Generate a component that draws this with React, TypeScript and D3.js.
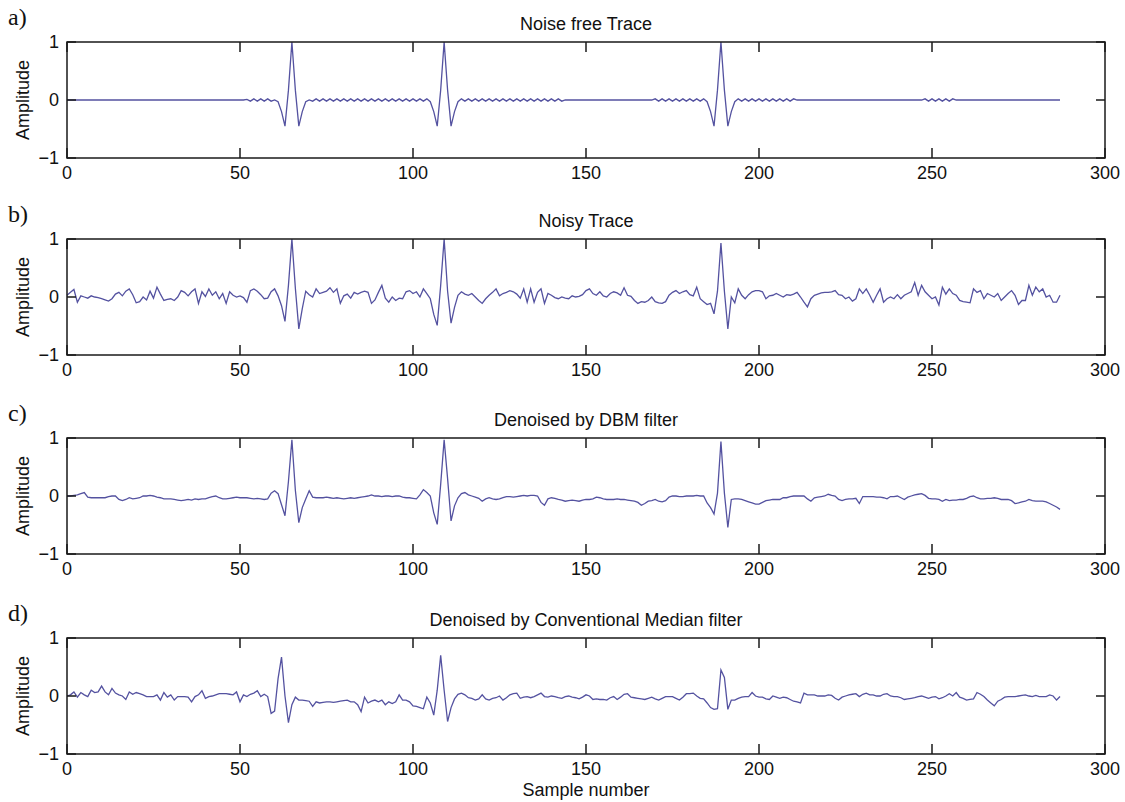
import React from "react";
import * as d3 from "d3";

// sample values (index = sample number)
const noiseFree = [
  0, 0, 0, 0, 0, 0, 0, 0, 0, 0, 0, 0, 0, 0, 0, 0,
  0, 0, 0, 0, 0, 0, 0, 0, 0, 0, 0, 0, 0, 0, 0, 0,
  0, 0, 0, 0, 0, 0, 0, 0, 0, 0, 0, 0, 0, 0, 0, 0,
  0, 0, 0, 0, 0.01, -0.02, 0.02, -0.02, 0.02, -0.02, 0.02, -0.02, 0, -0.03, -0.2, -0.45,
  0.17, 1, 0.17, -0.45, -0.2, -0.03, 0, -0.02, 0.02, -0.02, 0.02, -0.02, 0.02, -0.02, 0.02, -0.02,
  0.02, -0.02, 0.02, -0.02, 0.02, -0.02, 0.02, -0.02, 0.02, -0.02, 0.02, -0.02, 0.02, -0.02, 0.02, -0.02,
  0.02, -0.02, 0.02, -0.02, 0.02, -0.02, 0.02, -0.02, 0.02, -0.03, -0.2, -0.45, 0.17, 1, 0.17, -0.45,
  -0.2, -0.03, 0.02, -0.02, 0.02, -0.02, 0.02, -0.02, 0.02, -0.02, 0.02, -0.02, 0.02, -0.02, 0.02, -0.02,
  0.02, -0.02, 0.02, -0.02, 0.02, -0.02, 0.02, -0.02, 0.02, -0.02, 0.02, -0.02, 0.02, -0.02, 0.02, -0.02,
  0, 0, 0, 0, 0, 0, 0, 0, 0, 0, 0, 0, 0, 0, 0, 0,
  0, 0, 0, 0, 0, 0, 0, 0, 0, 0, 0.02, -0.02, 0.02, -0.02, 0.02, -0.02,
  0.02, -0.02, 0.02, -0.02, 0.02, -0.02, 0.02, -0.02, 0.02, -0.03, -0.2, -0.45, 0.17, 1, 0.17, -0.45,
  -0.2, -0.03, 0.02, -0.02, 0.02, -0.02, 0.02, -0.02, 0.02, -0.02, 0.02, -0.02, 0.02, -0.02, 0.02, -0.02,
  0.02, -0.02, 0.02, 0, 0, 0, 0, 0, 0, 0, 0, 0, 0, 0, 0, 0,
  0, 0, 0, 0, 0, 0, 0, 0, 0, 0, 0, 0, 0, 0, 0, 0,
  0, 0, 0, 0, 0, 0, 0, 0, 0.02, -0.02, 0.02, -0.02, 0.02, -0.02, 0.02, -0.02,
  0.02, 0, 0, 0, 0, 0, 0, 0, 0, 0, 0, 0, 0, 0, 0, 0,
  0, 0, 0, 0, 0, 0, 0, 0, 0, 0, 0, 0, 0, 0, 0, 0,
];

const noisy = [
  0.03, 0.08, 0.13, -0.09, 0.02, 0.0, -0.02, 0.02, 0.0, -0.01, -0.03, -0.05, -0.07, -0.03, 0.05, 0.08,
  0.02, 0.1, 0.14, 0.04, -0.1, -0.08, 0.0, -0.05, 0.1, -0.02, 0.17, 0.05, -0.06, -0.04, -0.03, -0.06,
  0.0, 0.11, 0.08, 0.02, 0.09, 0.14, -0.11, 0.09, 0.01, 0.14, 0.03, 0.09, -0.03, 0.06, -0.11, 0.09,
  0.03, 0.0, 0.02, -0.01, -0.09, 0.11, 0.14, 0.1, 0.04, -0.03, -0.02, 0.09, 0.14, 0.02, -0.15, -0.42,
  0.2, 1.0, 0.15, -0.55, -0.2, 0.1, 0.04, 0.0, 0.14, 0.06, 0.08, 0.1, 0.16, 0.08, 0.14, -0.11,
  0.02, 0.05, -0.02, 0.08, 0.05, 0.08, 0.1, 0.08, -0.11, -0.05, 0.08, 0.2, -0.02, -0.09, 0.0, -0.06,
  -0.02, -0.03, 0.09, 0.11, 0.06, 0.09, 0.0, 0.14, 0.06, -0.03, -0.3, -0.49, 0.2, 1.0, 0.1, -0.45,
  -0.18, 0.03, 0.09, 0.05, 0.03, 0.06, 0.0, -0.06, -0.11, -0.03, 0.03, 0.08, 0.14, 0.02, 0.06, 0.08,
  0.11, 0.09, 0.05, -0.02, 0.14, -0.09, 0.14, -0.09, 0.08, 0.14, -0.11, 0.06, 0.03, -0.01, -0.03, 0.0,
  -0.02, -0.03, 0.02, 0.0, 0.01, 0.04, 0.11, 0.14, 0.06, 0.03, 0.09, 0.02, 0.0, 0.06, 0.09, 0.07,
  0.03, 0.16, 0.03, 0.01, -0.06, -0.11, -0.08, -0.09, -0.06, 0.0, -0.08, -0.1, -0.11, -0.08, 0.03, 0.08,
  0.11, 0.06, 0.09, 0.11, 0.04, 0.02, 0.17, -0.03, -0.08, -0.13, -0.11, -0.29, 0.1, 0.93, 0.1, -0.55,
  0.0, -0.1, 0.14, 0.03, -0.03, 0.04, 0.09, 0.11, 0.11, 0.09, -0.03, 0.02, 0.03, 0.06, 0.03, 0.0,
  0.04, 0.03, 0.05, 0.08, 0.0, -0.09, -0.17, -0.03, 0.03, 0.05, 0.07, 0.08, 0.08, 0.09, 0.11, 0.04,
  0.03, -0.03, 0.0, -0.07, -0.03, 0.14, 0.06, 0.14, 0.03, -0.09, 0.03, 0.14, -0.09, -0.03, 0.0, -0.03,
  0.04, -0.03, 0.03, 0.06, 0.09, 0.25, 0.03, 0.2, 0.09, 0.03, -0.03, 0.0, -0.14, 0.17, 0.05, 0.14,
  0.06, 0.03, -0.06, -0.08, -0.09, -0.1, 0.14, 0.08, 0.11, -0.03, 0.06, 0.03, 0.0, 0.06, -0.06, 0.0,
  0.06, 0.11, 0.03, -0.13, -0.06, -0.06, 0.2, 0.03, 0.17, 0.09, 0.14, 0.0, 0.03, -0.09, -0.09, 0.03,
];

const dbmFiltered = [
  0.0, 0.0, 0.01, 0.02, 0.04, 0.06, -0.02, -0.03, -0.03, -0.03, -0.03, -0.03, -0.01, 0.0, 0.0, -0.06,
  -0.08, -0.06, -0.03, -0.05, -0.04, -0.03, 0.0, 0.0, 0.01, 0.0, -0.02, -0.03, -0.05, -0.05, -0.05, -0.06,
  -0.07, -0.08, -0.07, -0.06, -0.07, -0.05, -0.06, -0.05, -0.05, -0.03, -0.01, 0.0, -0.03, -0.05, -0.05, -0.04,
  -0.03, -0.02, -0.03, -0.03, -0.03, -0.04, -0.05, -0.04, -0.05, -0.06, -0.05, 0.05, 0.09, 0.04, -0.15, -0.34,
  0.25, 0.97, 0.1, -0.46, -0.2, -0.05, 0.09, -0.02, -0.03, -0.03, -0.03, -0.02, -0.03, -0.04, -0.03, -0.04,
  -0.05, -0.04, -0.03, -0.04, -0.03, -0.02, -0.01, 0.0, 0.02, 0.0, 0.0, -0.01, 0.0, 0.0, -0.01, 0.0,
  0.0, -0.02, -0.03, -0.03, -0.04, -0.05, 0.02, 0.11, 0.06, 0.0, -0.29, -0.49, 0.2, 0.97, 0.3, -0.43,
  -0.17, -0.03, 0.04, 0.06, 0.02, 0.0, -0.02, -0.04, -0.09, -0.05, -0.03, -0.05, -0.06, -0.05, -0.03, -0.01,
  -0.01, -0.02, -0.01, 0.0, 0.01, 0.0, 0.01, 0.01, 0.0, -0.11, -0.16, -0.05, -0.03, -0.04, -0.06, -0.07,
  -0.09, -0.08, -0.07, -0.08, -0.09, -0.07, -0.06, -0.06, -0.05, -0.02, -0.03, -0.05, -0.06, -0.06, -0.06, -0.05,
  -0.06, -0.06, -0.07, -0.08, -0.09, -0.11, -0.16, -0.13, -0.09, -0.08, -0.06, -0.09, -0.1, -0.08, -0.02, 0.0,
  0.0, -0.01, -0.01, 0.0, 0.0, 0.0, 0.01, 0.0, 0.0, -0.12, -0.2, -0.31, 0.05, 0.94, 0.05, -0.54,
  -0.06, -0.05, -0.05, -0.06, -0.08, -0.1, -0.12, -0.14, -0.14, -0.11, -0.08, -0.07, -0.06, -0.06, -0.06, -0.03,
  -0.03, -0.01, 0.0, 0.0, 0.0, 0.0, -0.05, -0.09, -0.03, -0.02, -0.01, 0.0, 0.03, 0.01, 0.0, -0.06,
  -0.08, -0.06, -0.05, -0.05, -0.04, -0.13, -0.01, -0.01, -0.01, -0.01, -0.02, -0.02, -0.03, -0.05, -0.01, -0.01,
  0.0, -0.03, -0.06, -0.02, 0.0, 0.02, 0.03, 0.04, 0.01, -0.04, -0.05, -0.05, -0.06, -0.09, -0.06, -0.08,
  -0.07, -0.07, -0.06, -0.06, -0.04, -0.01, 0.0, -0.03, -0.05, -0.05, -0.04, -0.04, -0.03, -0.04, -0.06, -0.06,
  -0.06, -0.08, -0.13, -0.12, -0.1, -0.09, -0.06, -0.08, -0.09, -0.09, -0.09, -0.1, -0.13, -0.16, -0.19, -0.23,
];

const medianFiltered = [
  0.0, 0.02, 0.07, -0.02, 0.06, 0.02, -0.01, 0.1, 0.06, 0.07, 0.17, 0.07, 0.02, 0.13, 0.05, 0.02,
  0.0, -0.06, 0.07, 0.03, 0.06, 0.04, 0.02, -0.01, -0.01, -0.01, 0.02, -0.07, 0.06, -0.02, 0.02, -0.07,
  -0.01, -0.01, -0.01, -0.02, -0.1, -0.01, 0.02, 0.09, -0.04, -0.01, 0.0, 0.02, 0.04, 0.04, 0.04, 0.03,
  0.02, 0.07, -0.1, 0.02, -0.01, 0.03, 0.05, 0.09, -0.01, 0.03, -0.01, -0.3, -0.26, 0.3, 0.67, 0.0,
  -0.46, -0.15, -0.02, -0.07, -0.07, -0.08, -0.09, -0.18, -0.1, -0.12, -0.11, -0.1, -0.1, -0.11, -0.1, -0.09,
  -0.08, -0.07, -0.1, -0.1, -0.15, -0.27, -0.02, -0.12, -0.09, -0.07, -0.1, -0.07, -0.15, -0.1, -0.13, -0.1,
  0.02, -0.07, -0.07, -0.1, -0.17, -0.18, -0.2, -0.22, -0.02, -0.12, -0.33, 0.1, 0.7, 0.1, -0.44, -0.2,
  -0.05, 0.03, 0.05, 0.02, -0.03, -0.04, -0.07, -0.05, 0.02, -0.05, -0.07, -0.04, -0.03, 0.0, -0.07, -0.03,
  0.02, 0.04, 0.05, -0.04, -0.02, -0.01, -0.03, -0.01, 0.02, 0.05, -0.01, -0.02, 0.0, -0.01, -0.03, -0.04,
  -0.01, 0.0, -0.02, -0.03, -0.05, -0.02, 0.02, 0.0, -0.06, -0.05, -0.06, -0.06, -0.07, -0.03, -0.01, -0.06,
  -0.02, 0.03, 0.04, -0.02, -0.03, -0.04, -0.05, -0.06, -0.04, -0.02, -0.05, -0.07, -0.04, -0.01, -0.01, -0.01,
  -0.04, -0.07, -0.02, 0.04, 0.04, 0.05, 0.0, -0.04, -0.05, -0.12, -0.2, -0.23, -0.22, 0.45, 0.32, -0.23,
  -0.07, -0.07, -0.04, -0.02, -0.01, -0.01, 0.06, 0.0, -0.02, -0.02, -0.05, -0.06, 0.0, -0.02, -0.04, -0.02,
  -0.03, -0.06, -0.09, -0.1, -0.12, 0.05, 0.02, 0.02, 0.02, 0.0, 0.0, 0.0, 0.02, 0.01, -0.04, -0.07,
  -0.02, 0.0, 0.02, 0.03, 0.04, -0.01, 0.03, 0.05, 0.02, 0.02, 0.0, 0.0, 0.03, 0.04, 0.0, -0.01,
  -0.01, -0.03, -0.06, -0.05, -0.04, -0.03, -0.01, 0.0, -0.02, -0.04, -0.02, -0.01, -0.05, -0.03, 0.0, 0.04,
  0.0, 0.06, -0.02, -0.04, -0.07, -0.06, -0.05, 0.06, 0.03, -0.01, -0.07, -0.12, -0.17, -0.09, -0.06, -0.02,
  -0.01, -0.01, -0.01, 0.0, 0.01, 0.02, 0.0, -0.01, 0.01, -0.01, -0.01, -0.01, 0.02, 0.0, -0.07, -0.01,
];

const panelLetters = ["a)", "b)", "c)", "d)"];
const panelTitles = [
  "Noise free Trace",
  "Noisy Trace",
  "Denoised by DBM filter",
  "Denoised by Conventional Median filter",
];
const xTicks = [0, 50, 100, 150, 200, 250, 300];
const yTicks = [-1, 0, 1];

const W = 1125;
const H = 802;
const left = 67;
const right = 1105;
const tops = [42, 239, 438, 638];
const panelH = 116;
const sans = "'Liberation Sans', Arial, Helvetica, sans-serif";
const serif = "'Liberation Serif', 'Times New Roman', serif";
const lineColor = "#5452a0";

export default function App() {
  const series = [noiseFree, noisy, dbmFiltered, medianFiltered];
  const x = d3.scaleLinear().domain([0, 300]).range([left, right]);

  return (
    <svg
      width={W}
      height={H}
      style={{ position: "absolute", left: 0, top: 0, background: "#fff" }}
    >
      {series.map((values, p) => {
        const top = tops[p];
        const bottom = top + panelH;
        const y = d3.scaleLinear().domain([-1, 1]).range([bottom, top]);
        const line = d3
          .line<number>()
          .x((_, i) => x(i))
          .y((d) => y(d));
        return (
          <g key={p}>
            <text x={8} y={top - 17} fontFamily={serif} fontSize={24} fill="#111">
              {panelLetters[p]}
            </text>
            <text
              x={(left + right) / 2}
              y={top - 12}
              textAnchor="middle"
              fontFamily={sans}
              fontSize={18}
              fill="#111"
            >
              {panelTitles[p]}
            </text>
            <text
              transform={`translate(29, ${y(0)}) rotate(-90)`}
              textAnchor="middle"
              fontFamily={sans}
              fontSize={18}
              fill="#111"
            >
              Amplitude
            </text>
            <path d={line(values) || ""} fill="none" stroke={lineColor} strokeWidth={1.3} />
            <rect
              x={left}
              y={top}
              width={right - left}
              height={panelH}
              fill="none"
              stroke="#1a1a1a"
              strokeWidth={1.5}
            />
            {xTicks.map((t) => (
              <g key={t}>
                <line x1={x(t)} x2={x(t)} y1={top} y2={top + 10} stroke="#1a1a1a" strokeWidth={1.5} />
                <line x1={x(t)} x2={x(t)} y1={bottom} y2={bottom - 10} stroke="#1a1a1a" strokeWidth={1.5} />
                <text
                  x={x(t)}
                  y={bottom + 21}
                  textAnchor="middle"
                  fontFamily={sans}
                  fontSize={18}
                  fill="#111"
                >
                  {t}
                </text>
              </g>
            ))}
            {yTicks.map((t) => (
              <g key={t}>
                <line x1={left} x2={left + 9} y1={y(t)} y2={y(t)} stroke="#1a1a1a" strokeWidth={1.5} />
                <line x1={right} x2={right - 9} y1={y(t)} y2={y(t)} stroke="#1a1a1a" strokeWidth={1.5} />
                <text
                  x={left - 8}
                  y={y(t) + 6}
                  textAnchor="end"
                  fontFamily={sans}
                  fontSize={18}
                  fill="#111"
                >
                  {t < 0 ? "\u2212" + Math.abs(t) : t}
                </text>
              </g>
            ))}
          </g>
        );
      })}
      <text
        x={(left + right) / 2}
        y={tops[3] + panelH + 42}
        textAnchor="middle"
        fontFamily={sans}
        fontSize={18}
        fill="#111"
      >
        Sample number
      </text>
    </svg>
  );
}
